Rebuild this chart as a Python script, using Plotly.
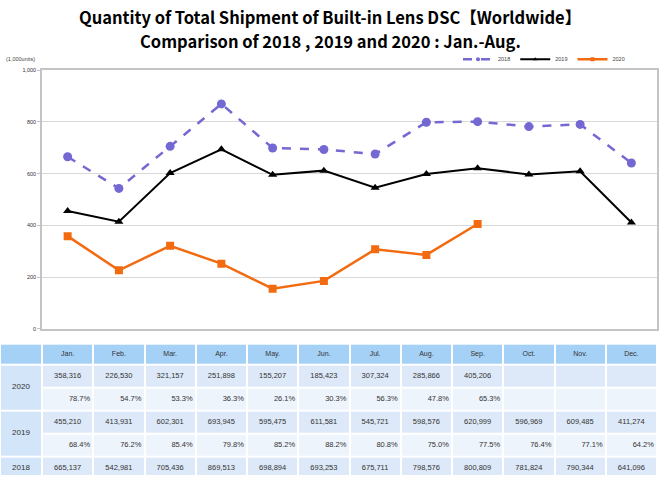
import plotly.graph_objects as go

months = ["Jan.", "Feb.", "Mar.", "Apr.", "May.", "Jun.", "Jul.", "Aug.", "Sep.", "Oct.", "Nov.", "Dec."]
years = ["2020", "2019", "2018"]
ship_2018 = [665137, 542981, 705436, 869513, 698894, 693253, 675711, 798576, 800809, 781824, 790344, 641096]
ship_2019 = [455210, 413931, 602301, 693945, 595475, 611581, 545721, 598576, 620999, 596969, 609485, 411274]
ship_2020 = [358316, 226530, 321157, 251898, 155207, 185423, 307324, 285866, 405206]
pct_2020 = [78.7, 54.7, 53.3, 36.3, 26.1, 30.3, 56.3, 47.8, 65.3]
pct_2019 = [68.4, 76.2, 85.4, 79.8, 85.2, 88.2, 80.8, 75.0, 77.5, 76.4, 77.1, 64.2]
y_ticks = [0, 200, 400, 600, 800, 1000]
title_lines = ["Quantity of Total Shipment of Built-in Lens DSC【Worldwide】",
               "Comparison of 2018 , 2019 and 2020 : Jan.-Aug."]

W, H = 660, 478
C18, C19, C20 = "#7468d3", "#000000", "#f26b10"
HEAD, YEARC, VALC, PCTC = "#a6d1f6", "#d3e5f8", "#dde9f8", "#eef4fc"
TXT = "Liberation Sans"

fig = go.Figure()

series = [
    ("2018", ship_2018, dict(color=C18, width=2.5, dash="dash"), dict(symbol="circle", size=9, color=C18)),
    ("2019", ship_2019, dict(color=C19, width=2), dict(symbol="triangle-up", size=8, color=C19)),
    ("2020", ship_2020, dict(color=C20, width=2.5), dict(symbol="square", size=8, color=C20)),
]
for name, vals, ln, mk in series:
    xs = months[:len(vals)]
    ys = [v / 1000 for v in vals]
    # line with small markers (this is what the legend shows)
    fig.add_trace(go.Scatter(
        x=xs, y=ys, name=name, legendgroup=name, mode="lines+markers",
        line=ln, marker=dict(symbol=mk["symbol"], size=4, color=mk["color"]),
        xaxis="x", yaxis="y",
    ))
    # full-size markers on the chart
    fig.add_trace(go.Scatter(
        x=xs, y=ys, name=name, legendgroup=name, mode="markers", marker=mk,
        showlegend=False, xaxis="x", yaxis="y",
    ))

# ---- table built on its own axes ----
ncol = len(months)
col_px = (657 - 42) / ncol
x_min = -0.5 - 42 / col_px
month_edges = [i - 0.5 for i in range(ncol + 1)]
row_edges = [0, 0.9, 1.9, 2.9, 3.9, 4.9, 5.9]
row_kinds = [0, 2, 3, 2, 3, 2]
z_grid = [[k] * ncol for k in row_kinds]
cscale = [[0, HEAD], [1 / 3, YEARC], [2 / 3, VALC], [1, PCTC]]

fig.add_trace(go.Heatmap(
    x=month_edges, y=row_edges, z=z_grid, zmin=0, zmax=3, colorscale=cscale,
    showscale=False, xgap=2, ygap=2, hoverinfo="skip", xaxis="x2", yaxis="y2",
))
year_edges = [0, 0.9, 2.9, 4.9, 5.9]
fig.add_trace(go.Heatmap(
    x=[x_min, -0.5], y=year_edges, z=[[0], [1], [1], [1]], zmin=0, zmax=3,
    colorscale=cscale, showscale=False, xgap=2, ygap=2, hoverinfo="skip",
    xaxis="x2", yaxis="y2",
))


def add_text(xs, ys, texts, pos="middle center", size=7.5):
    fig.add_trace(go.Scatter(
        x=xs, y=ys, text=texts, mode="text", textposition=pos,
        textfont=dict(family=TXT, size=size, color="#333333"),
        showlegend=False, hoverinfo="skip", xaxis="x2", yaxis="y2",
    ))


idx = list(range(ncol))
add_text(idx, [0.45] * ncol, months, size=7)
value_rows = [(ship_2020, 1.4), (ship_2019, 3.4), (ship_2018, 5.4)]
for vals, yc in value_rows:
    add_text(idx[:len(vals)], [yc] * len(vals), [f"{v:,}" for v in vals])
pct_rows = [(pct_2020, 2.4), (pct_2019, 4.4)]
for vals, yc in pct_rows:
    add_text([i + 0.44 for i in idx[:len(vals)]], [yc] * len(vals),
             [f"{p:.1f}%" for p in vals], pos="middle left")
year_x = (x_min - 0.5) / 2
add_text([year_x] * 3, [1.9, 3.9, 5.4], years, size=8)

title_font = dict(family="Noto Sans CJK JP", size=16.5, color="#000000")
annotations = [
    dict(text=f"<b>{title_lines[0]}</b>", x=0.5, y=1 - 14 / H),
    dict(text=f"<b>{title_lines[1]}</b>", x=0.5, y=1 - 38 / H),
]
for a in annotations:
    a.update(xref="paper", yref="paper", xanchor="center", yanchor="middle",
             showarrow=False, font=title_font)
annotations.append(dict(
    text="(1,000units)", x=4 / W, y=1 - 57 / H, xref="paper", yref="paper",
    xanchor="left", yanchor="middle", showarrow=False,
    font=dict(family=TXT, size=5.5, color="#444444"),
))

fig.update_layout(
    width=W, height=H, autosize=False,
    margin=dict(l=0, r=0, t=0, b=0),
    paper_bgcolor="white", plot_bgcolor="white",
    xaxis=dict(
        domain=[42 / W, 657 / W], type="category", range=[-0.5, 11.5],
        categoryorder="array", categoryarray=months,
        showticklabels=False, ticks="", showgrid=False,
        showline=True, linecolor="#c4c4c4", linewidth=1.5, mirror=True,
        anchor="y",
    ),
    yaxis=dict(
        domain=[1 - 330 / H, 1 - 68 / H], range=[0, 1000],
        tickvals=y_ticks, tickformat=",", showgrid=True, gridcolor="#d9d9d9",
        gridwidth=1, ticks="outside", ticklen=3, tickcolor="#c4c4c4",
        tickfont=dict(family=TXT, size=5.5, color="#333333"),
        showline=True, linecolor="#c4c4c4", linewidth=1.5, mirror=True,
        zeroline=False, anchor="x",
    ),
    xaxis2=dict(
        domain=[0, 657 / W], range=[x_min, 11.5], visible=False,
        fixedrange=True, anchor="y2",
    ),
    yaxis2=dict(
        domain=[0, 1 - 345 / H], range=[5.72, 0], visible=False,
        fixedrange=True, anchor="x2",
    ),
    legend=dict(
        orientation="h", x=630 / W, xanchor="right", y=1 - 57 / H, yanchor="middle",
        font=dict(family=TXT, size=5.5, color="#444444"),
        bgcolor="rgba(0,0,0,0)", itemwidth=30,
    ),
    annotations=annotations,
)

fig.write_html("out.html", config={"displayModeBar": False},
               post_script="document.body.style.margin='0px';")
